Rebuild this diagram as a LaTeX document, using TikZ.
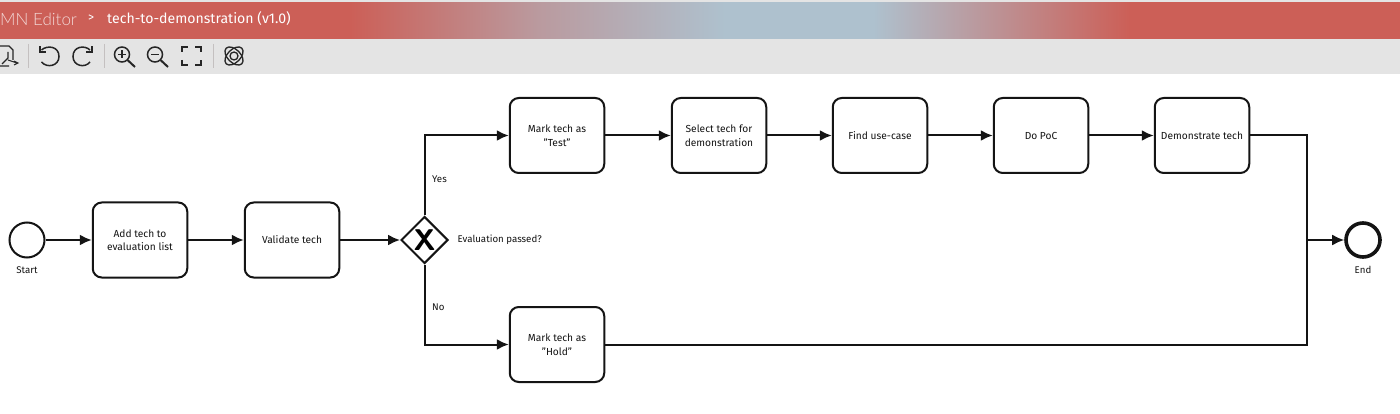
\documentclass[tikz,border=0pt]{standalone}
\usepackage{fontspec}
\setmainfont{Fira Sans}
\newfontfamily\lightfont{Lato Light}
\usetikzlibrary{arrows.meta,shapes.geometric}
\definecolor{hdrred}{HTML}{CC5F57}
\definecolor{hdrblue}{HTML}{AEC1CE}
\definecolor{barGrey}{HTML}{E4E4E4}
\definecolor{sepGrey}{HTML}{C4C0C0}
\definecolor{ink}{HTML}{141414}
\tikzset{
  x=1pt,y=-1pt,
  task/.style={draw=ink,line width=2pt,rounded corners=9pt,minimum width=94.5pt,minimum height=75pt,
    align=center,inner sep=0pt,font=\fontsize{10.2}{13.5}\selectfont,text=ink},
  evstart/.style={circle,draw=ink,line width=2pt,minimum size=35pt,inner sep=0pt},
  evend/.style={circle,draw=ink,line width=3.6pt,minimum size=34pt,inner sep=0pt},
  gate/.style={diamond,draw=ink,line width=2pt,minimum width=47pt,minimum height=47pt,inner sep=0pt,
    aspect=1,font=\sffamily\bfseries\fontsize{30}{30}\selectfont},
  lbl/.style={font=\fontsize{9.7}{11}\selectfont,text=ink,inner sep=0pt},
  flow/.style={draw=ink,line width=2pt,-{Latex[length=12pt,width=11pt]}},
  plain/.style={draw=ink,line width=2pt},
  icon/.style={draw=black!85,line width=1.5pt},
  sep/.style={draw=sepGrey,line width=1pt},
}
\begin{document}
\begin{tikzpicture}
\useasboundingbox (0,0) rectangle (1400,414);
% header
\fill[white] (0,0) rectangle (1400,414);
\fill[hdrred] (0,2) rectangle (351,39);
\shade[left color=hdrred,right color=hdrblue,middle color=hdrred!40!hdrblue] (350,2) rectangle (725,39);
\fill[hdrblue] (724,2) rectangle (874,39);
\shade[left color=hdrblue,right color=hdrred,middle color=hdrred!50!hdrblue] (873,2) rectangle (1130,39);
\fill[hdrred] (1129,2) rectangle (1400,39);
\fill[barGrey] (0,0) rectangle (1400,2);
\fill[barGrey] (0,39) rectangle (1400,74);
\node[anchor=west,inner sep=0pt,text=white!75!hdrred,font=\lightfont\fontsize{17}{20}\selectfont] (brand) at (0,19.5) {MN Editor};
\node[anchor=west,inner sep=0pt,text=white,font=\fontsize{12}{14}\selectfont] (sepmark) at (88,18.5) {>};
\node[anchor=west,inner sep=0pt,text=white,font=\fontsize{14.1}{16}\selectfont] (crumb) at (107,19) {tech-to-demonstration (v1.0)};
% toolbar separators
\draw[sep] (28,44) -- (28,68) (104,44) -- (104,68) (213,44) -- (213,68);
% export icon (clipped at left edge)
\draw[icon,line width=1.2pt] (0,46) -- (9,46) -- (13,50) -- (13,60) (0,66) -- (9,66);
\draw[icon,line width=1.1pt] (2,64) -- (8,58) -- (8,52) (8,60) -- (17,63) (14,61) -- (18,63) -- (14,65);
% undo
\draw[icon] (41.5,50) .. controls (47,45) and (59,46) .. (59,56.5) .. controls (59,66) and (47,68.5) .. (41.5,62);
\draw[icon] (40,46.5) -- (40,52) -- (46,52);
% redo
\draw[icon] (90,50) .. controls (85,45) and (73,46) .. (73,56.5) .. controls (73,66) and (85,68.5) .. (90,62);
\draw[icon] (92,46.5) -- (92,52) -- (86,52);
% zoom in
\draw[icon] (122,54.5) circle[radius=7.5];
\draw[icon] (118,54.5) -- (126,54.5) (122,50.5) -- (122,58.5);
\draw[icon,line width=2pt] (127.5,60) -- (135,67);
% zoom out
\draw[icon] (155,54.5) circle[radius=7.5];
\draw[icon] (151,54.5) -- (159,54.5);
\draw[icon,line width=2pt] (160.5,60) -- (168,67);
% fit
\draw[icon,line width=2pt] (182,52) -- (182,47) -- (188,47) (195,47) -- (201,47) -- (201,52) (182,60) -- (182,65) -- (188,65) (195,65) -- (201,65) -- (201,60);
% atom icon
\begin{scope}[icon,line width=1.3pt]
\draw[rotate around={45:(234,56)}] (234,56) ellipse[x radius=11,y radius=6.5];
\draw[rotate around={-45:(234,56)}] (234,56) ellipse[x radius=11,y radius=6.5];
\draw (234,56) circle[radius=4];
\end{scope}
% events and tasks
\node[evstart] (start) at (27,240) {};
\node[task] (add) at (140,240) {Add tech to\\evaluation list};
\node[task] (validate) at (292,240) {Validate tech};
\node[gate] (gw) at (424.5,240) {X};
\node[task] (test) at (557,135.5) {Mark tech as\\\symbol{34}Test\symbol{34}};
\node[task] (select) at (719,135.5) {Select tech for\\demonstration};
\node[task] (usecase) at (880,135.5) {Find use-case};
\node[task] (poc) at (1041,135.5) {Do PoC};
\node[task] (demo) at (1202,135.5) {Demonstrate tech};
\node[task] (hold) at (557,344.5) {Mark tech as\\\symbol{34}Hold\symbol{34}};
\node[evend] (end) at (1363,240) {};
\coordinate (merge) at (1307,240);
% labels
\node[lbl] (startl) at (27,270) {Start};
\node[lbl] (endl) at (1363,270) {End};
\node[lbl,anchor=west] (yes) at (432,179.5) {Yes};
\node[lbl,anchor=west] (no) at (432,307.5) {No};
\node[lbl,anchor=west] (q) at (457.5,240) {Evaluation passed?};
% flows
\draw[flow] (start) -- (add);
\draw[flow] (add) -- (validate);
\draw[flow] (validate) -- (gw);
\draw[flow] (gw.north) |- (test);
\draw[flow] (gw.south) |- (hold);
\draw[flow] (test) -- (select);
\draw[flow] (select) -- (usecase);
\draw[flow] (usecase) -- (poc);
\draw[flow] (poc) -- (demo);
\draw[plain] (demo) -| (merge);
\draw[plain] (hold) -| (merge);
\draw[flow] (merge) -- (end);
\end{tikzpicture}
\end{document}
